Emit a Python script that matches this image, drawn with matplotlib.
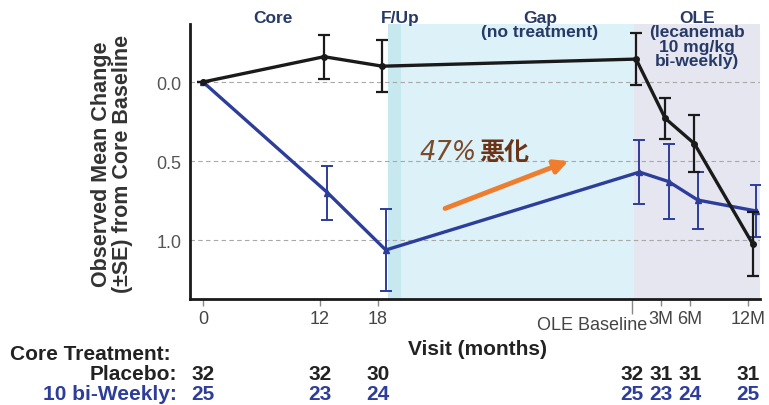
import numpy as np
import matplotlib.pyplot as plt
import matplotlib.transforms as mtransforms

plt.rcParams['font.family'] = ['Liberation Sans', 'Noto Sans CJK JP', 'DejaVu Sans']

# visits: core study months, then open-label extension
visit_pos = [0, 12, 18, 44.1, 47.1, 50.1, 56.1]
visit_labels = ['0', '12', '18', 'OLE Baseline', '3M', '6M', '12M']

placebo_mean = [0.0, -0.16, -0.10, -0.145, 0.23, 0.39, 1.025]
placebo_se = [0.0, 0.14, 0.165, 0.165, 0.13, 0.18, 0.205]
lec_mean = [0.0, 0.70, 1.063, 0.57, 0.63, 0.747, 0.816]
lec_se = [0.0, 0.17, 0.26, 0.20, 0.235, 0.18, 0.165]

placebo_n = [32, 32, 30, 32, 31, 31, 31]
lec_n = [25, 23, 24, 25, 23, 24, 25]

periods = ['Core', 'F/Up', 'Gap\n(no treatment)', 'OLE\n(lecanemab\n10 mg/kg\nbi-weekly)']

BLACK = '#1a1a1a'
BLUE = '#2d3d9a'
NAVY = '#273a66'

W, H = 769, 406
fig = plt.figure(figsize=(W / 100, H / 100), dpi=100)
ax = fig.add_axes([190 / W, 1 - 300 / H, 570 / W, 275 / H])

def fx(px):
    return px / W

def fy(py):
    return 1 - py / H

# study period shading
ax.axvspan(19.0, 44.3, color='#dcf1f8', lw=0, zorder=0)
ax.axvspan(19.0, 20.4, color='#c8e8f0', lw=0, zorder=0)
ax.axvspan(44.3, 57.3, color='#e6e6f1', lw=0, zorder=0)

for yv in [0.0, 0.5, 1.0]:
    ax.axhline(yv, color='#a8a8a8', lw=0.8, ls=(0, (4, 3)), zorder=1)

pos = np.array(visit_pos, dtype=float)
dodge = np.r_[0, np.ones(len(pos) - 1)]
ax.errorbar(pos + 0.45 * dodge, placebo_mean, yerr=placebo_se, color=BLACK,
            lw=2.4, elinewidth=1.6, capsize=4, capthick=1.6, marker='o', ms=4,
            zorder=4)
ax.errorbar(pos + 0.8 * dodge, lec_mean, yerr=lec_se, color=BLUE,
            lw=2.4, elinewidth=1.4, capsize=4, capthick=1.4, marker='^', ms=4,
            zorder=3)

ax.set_xlim(-1.34, 57.3)
ax.set_ylim(1.373, -0.367)

for side in ['top', 'right']:
    ax.spines[side].set_visible(False)
for side in ['left', 'bottom']:
    ax.spines[side].set_linewidth(2)
    ax.spines[side].set_color(BLACK)

ax.set_yticks([0.0, 0.5, 1.0])
ax.set_yticklabels(['0.0', '0.5', '1.0'])
ax.tick_params(axis='y', length=0, pad=6, labelsize=13, labelcolor='#555555')

major = [p for p, l in zip(visit_pos, visit_labels) if l != 'OLE Baseline']
major_lab = [l for l in visit_labels if l != 'OLE Baseline']
ax.set_xticks(major)
ax.set_xticklabels(major_lab)
ax.tick_params(axis='x', length=5, width=1, color='#888888', pad=3,
               labelsize=13, labelcolor='#444444')
ole_x = visit_pos[visit_labels.index('OLE Baseline')]
ax.set_xticks([ole_x], minor=True)
ax.tick_params(axis='x', which='minor', length=11, width=1, color='#888888')
ax.annotate('OLE Baseline', xy=(ole_x, 0), xycoords=('data', 'axes fraction'),
            xytext=(16, -26), textcoords='offset pixels', ha='right', va='center',
            fontsize=13, color='#444444')

# period headers
header_x = [273, 400, 540, 697]
for px, txt in zip(header_x, periods):
    fig.text(fx(px), fy(11), txt, ha='center', va='top', fontsize=12.5,
             fontweight='bold', color=NAVY, linespacing=0.95)

fig.text(fx(112), fy(164), 'Observed Mean Change\n(±SE) from Core Baseline',
         rotation=90, ha='center', va='center', fontsize=15.5, fontweight='bold',
         color='#333333', linespacing=1.05)

fig.text(fx(477), fy(350), 'Visit (months)', ha='center', va='center',
         fontsize=15, fontweight='bold', color='#222222')

# number of subjects per visit
fig.text(fx(10), fy(355), 'Core Treatment:', ha='left', va='center',
         fontsize=15, fontweight='bold', color='#222222')
fig.text(fx(177), fy(375), 'Placebo:', ha='right', va='center',
         fontsize=15, fontweight='bold', color='#222222')
fig.text(fx(177), fy(395), '10 bi-Weekly:', ha='right', va='center',
         fontsize=15, fontweight='bold', color=BLUE)
trans = mtransforms.blended_transform_factory(ax.transData, fig.transFigure)
for p, a, b in zip(visit_pos, placebo_n, lec_n):
    fig.text(p, fy(375), str(a), transform=trans, ha='center', va='center',
             fontsize=15, fontweight='bold', color='#222222')
    fig.text(p, fy(395), str(b), transform=trans, ha='center', va='center',
             fontsize=15, fontweight='bold', color=BLUE)

# worsening callout
ax.text(22.3, 0.44, '47%', ha='left', va='center', fontsize=18.5,
        style='italic', fontweight='light', color='#7a4a2a',
        family=['DejaVu Sans'])
ax.text(28.4, 0.44, '悪化', ha='left', va='center', fontsize=18,
        fontweight='bold', color='#6b3416',
        family=['Noto Sans CJK JP', 'DejaVu Sans'])
ax.annotate('', xy=(37.6, 0.50), xytext=(24.9, 0.80),
            arrowprops=dict(arrowstyle='-|>', lw=3.5, color='#ee7d2e',
                            mutation_scale=20, shrinkA=0, shrinkB=0))

fig.savefig('out.png', dpi=100)
